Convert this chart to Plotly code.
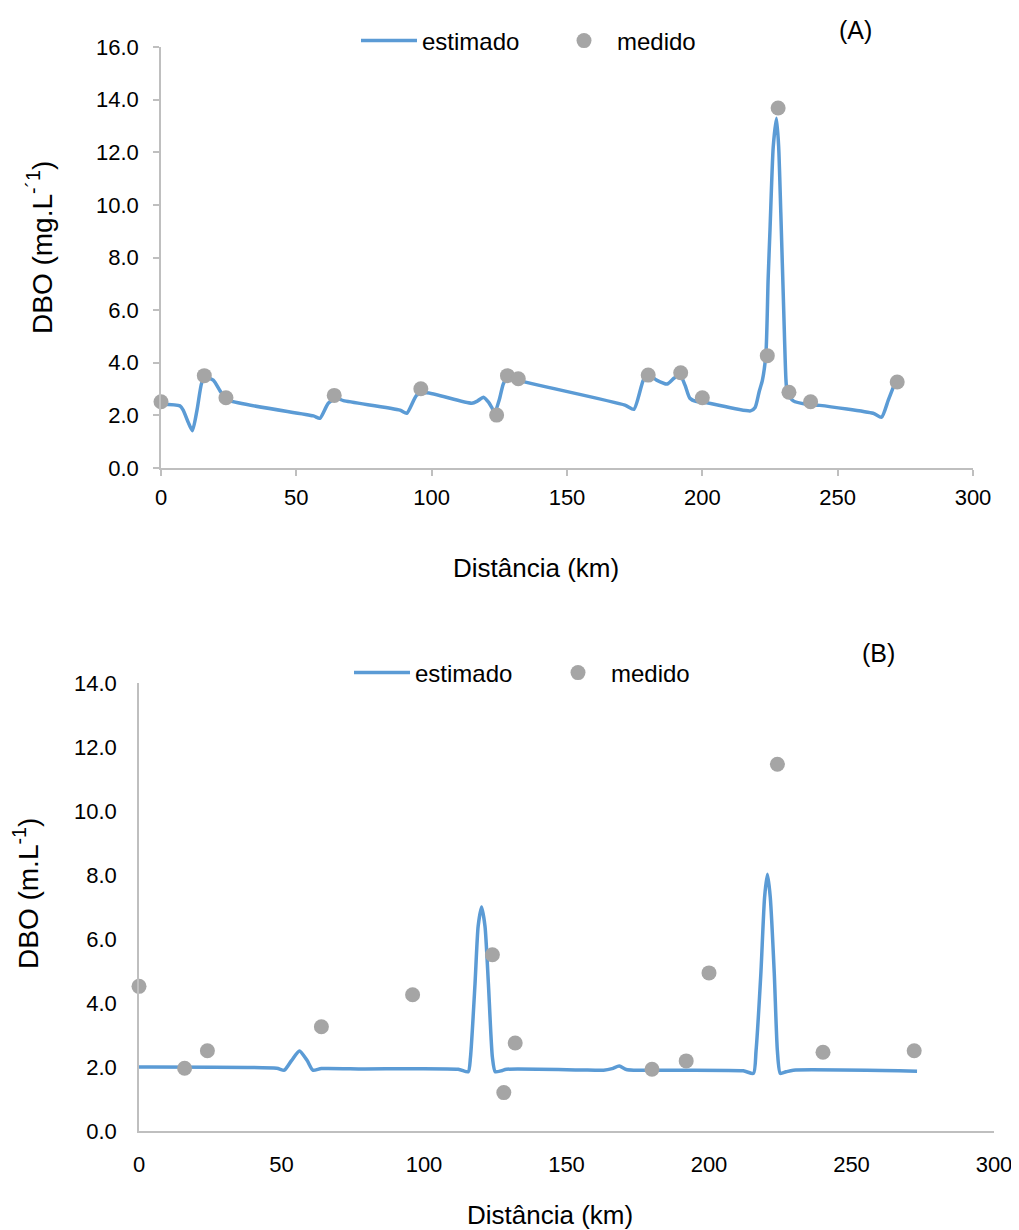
import plotly.graph_objects as go

# ---------------- Data: panel (A) ----------------
a_est_km = [0, 7, 8.2, 10, 11.6, 13.3, 15, 16.3, 19.3, 22.4, 25.5, 56.3, 58.7, 61.8,
            64.9, 67.4, 88.3, 90.8, 94.5, 98.1, 114.8, 117, 119.1, 121, 122.2, 123.3,
            125, 126.5, 128.3, 131.8, 171.4, 174.7, 178.2, 180, 183.1, 187, 189.5,
            191.7, 193.6, 195.4, 197.9, 201.6, 217.8, 219.5, 221, 222.2, 223.5, 224.3,
            225, 226.2, 227.4, 228.2, 229, 230.1, 230.9, 231.4, 233.6, 238.5, 243.4,
            263.1, 266.2, 268.7, 271.1]
a_est_val = [2.42, 2.36, 2.2, 1.75, 1.42, 2.2, 3.22, 3.45, 3.34, 2.84, 2.56, 1.98, 1.89, 2.46,
             2.65, 2.56, 2.2, 2.08, 2.77, 2.86, 2.46, 2.55, 2.69, 2.5, 2.3, 2.1,
             2.6, 3.2, 3.48, 3.34, 2.39, 2.23, 3.34, 3.55, 3.34, 3.19, 3.41,
             3.55, 3.15, 2.65, 2.52, 2.48, 2.17, 2.3, 2.9, 3.34, 4.36, 7.15,
             9.05, 12.21, 13.29, 12.21, 9.68, 5.88, 3.34, 2.84, 2.55, 2.42, 2.38,
             2.08, 1.93, 2.58, 3.22]
a_med_km = [0, 16, 24, 64, 96, 124, 128, 132, 180, 192, 200, 224, 228, 232, 240, 272]
a_med_val = [2.52, 3.51, 2.67, 2.76, 3.01, 2.01, 3.51, 3.39, 3.53, 3.62, 2.67, 4.27,
             13.68, 2.88, 2.52, 3.27]

# ---------------- Data: panel (B) ----------------
b_est_km = [0, 48.3, 51, 53.5, 56.3, 59, 61, 64, 78.7, 112, 115.5, 116.3, 117.9, 119,
            120.2, 121.4, 122.6, 124, 125, 127, 129, 154.7, 163, 166, 168.5, 171, 174,
            212, 215.6, 216.5, 218.2, 219.5, 220.5, 221.5, 222.9, 224, 225, 227, 229.6, 273]
b_est_val = [2.0, 1.96, 1.9, 2.2, 2.5, 2.2, 1.9, 1.95, 1.94, 1.93, 1.85, 2.3, 4.6, 6.4,
             7.0, 6.4, 4.6, 2.3, 1.85, 1.88, 1.93, 1.91, 1.9, 1.95, 2.03, 1.92, 1.9,
             1.88, 1.8, 2.5, 4.93, 7.3, 8.02, 7.3, 4.93, 2.5, 1.8, 1.85, 1.9, 1.87]
b_med_km = [0, 16, 24, 64, 96, 124, 128, 132, 180, 192, 200, 224, 240, 272]
b_med_val = [4.52, 1.96, 2.51, 3.26, 4.26, 5.51, 1.2, 2.75, 1.93, 2.19, 4.94, 11.46,
             2.46, 2.51]

y_ticks_a = [0, 2, 4, 6, 8, 10, 12, 14, 16]
y_ticks_b = [0, 2, 4, 6, 8, 10, 12, 14]
x_ticks = [0, 50, 100, 150, 200, 250, 300]

x_title = "Distância (km)"
y_title_a = "DBO (mg.L<sup>-´1</sup>)"
y_title_b = "DBO (m.L<sup>-1</sup>)"

LINE_C = "#5B9BD5"
MARK_C = "#A5A5A5"
AXIS_C = "#BFBFBF"
FONT = "Liberation Sans, Arial, sans-serif"

# page body has an 8px margin: the figure is drawn offset by 8px
OFF = 8
W, H = 1011, 1222


def px(x):
    return (x - OFF) / W


def py(y):
    return 1 - (y - OFF) / H


fig = go.Figure()
fig.add_trace(go.Scatter(x=a_est_km, y=a_est_val, mode="lines", name="estimado",
                         line=dict(color=LINE_C, width=3.5, shape="spline", smoothing=0.6),
                         xaxis="x", yaxis="y", legend="legend"))
fig.add_trace(go.Scatter(x=a_med_km, y=a_med_val, mode="markers", name="medido",
                         marker=dict(color=MARK_C, size=15), cliponaxis=False,
                         xaxis="x", yaxis="y", legend="legend"))
fig.add_trace(go.Scatter(x=b_est_km, y=b_est_val, mode="lines", name="estimado",
                         line=dict(color=LINE_C, width=3.5, shape="spline", smoothing=0.6),
                         xaxis="x2", yaxis="y2", legend="legend2"))
fig.add_trace(go.Scatter(x=b_med_km, y=b_med_val, mode="markers", name="medido",
                         marker=dict(color=MARK_C, size=15), cliponaxis=False,
                         xaxis="x2", yaxis="y2", legend="legend2"))

tickfont = dict(family=FONT, size=22, color="#000000")
xtitlefont = dict(family=FONT, size=26, color="#000000")
ytitlefont = dict(family=FONT, size=28, color="#000000")
legfont = dict(family=FONT, size=24, color="#000000")
labfont = dict(family=FONT, size=25, color="#000000")

fig.update_layout(
    width=W, height=H,
    margin=dict(l=0, r=0, t=0, b=0),
    paper_bgcolor="white", plot_bgcolor="white",
    font=dict(family=FONT, size=22, color="#000000"),
    showlegend=True,
    xaxis=dict(domain=[px(161), px(973)], range=[0, 300], tickvals=x_ticks,
               showline=True, linecolor=AXIS_C, linewidth=1.5, showgrid=False,
               zeroline=False, ticks="outside", ticklen=6, tickcolor=AXIS_C, tickwidth=1.5,
               tickfont=tickfont, ticklabelstandoff=3,
               anchor="y", automargin=False),
    yaxis=dict(domain=[py(468), py(47)], range=[0, 16], tickvals=y_ticks_a,
               tickformat=".1f", showline=True, linecolor=AXIS_C, linewidth=1.5,
               showgrid=False, zeroline=False, ticks="outside", ticklen=6,
               tickcolor=AXIS_C, tickwidth=1.5, tickfont=tickfont, ticklabelstandoff=10,
               anchor="x", automargin=False),
    xaxis2=dict(domain=[px(139), px(994)], range=[0, 300], tickvals=x_ticks,
                showline=True, linecolor=AXIS_C, linewidth=1.5, showgrid=False,
                zeroline=False, ticks="", tickfont=tickfont, ticklabelstandoff=13,
                anchor="y2", automargin=False),
    yaxis2=dict(domain=[py(1131), py(683)], range=[0, 14], tickvals=y_ticks_b,
                tickformat=".1f", showline=True, linecolor=AXIS_C, linewidth=1.5,
                showgrid=False, zeroline=False, ticks="", tickfont=tickfont,
                ticklabelstandoff=16,
                anchor="x2", automargin=False),
    legend=dict(orientation="h", x=px(356), y=py(41), xanchor="left", yanchor="middle",
                font=legfont, bgcolor="rgba(0,0,0,0)",
                entrywidth=124, itemwidth=56),
    legend2=dict(orientation="h", x=px(349), y=py(673), xanchor="left", yanchor="middle",
                 font=legfont, bgcolor="rgba(0,0,0,0)",
                 entrywidth=125, itemwidth=56),
    annotations=[
        dict(text="(A)", x=px(855), y=py(30), xref="paper", yref="paper",
             showarrow=False, font=labfont, xanchor="center", yanchor="middle"),
        dict(text="(B)", x=px(878), y=py(653), xref="paper", yref="paper",
             showarrow=False, font=labfont, xanchor="center", yanchor="middle"),
        # axis titles
        dict(text=x_title, x=px(536), y=py(568), xref="paper", yref="paper",
             showarrow=False, font=xtitlefont, xanchor="center", yanchor="middle"),
        dict(text=x_title, x=px(550), y=py(1215), xref="paper", yref="paper",
             showarrow=False, font=xtitlefont, xanchor="center", yanchor="middle"),
        dict(text=y_title_a, x=px(40), y=py(248), xref="paper", yref="paper",
             showarrow=False, font=ytitlefont, textangle=-90,
             xanchor="center", yanchor="middle"),
        dict(text=y_title_b, x=px(26), y=py(894), xref="paper", yref="paper",
             showarrow=False, font=ytitlefont, textangle=-90,
             xanchor="center", yanchor="middle"),
    ],
)

fig.write_html("out.html")
